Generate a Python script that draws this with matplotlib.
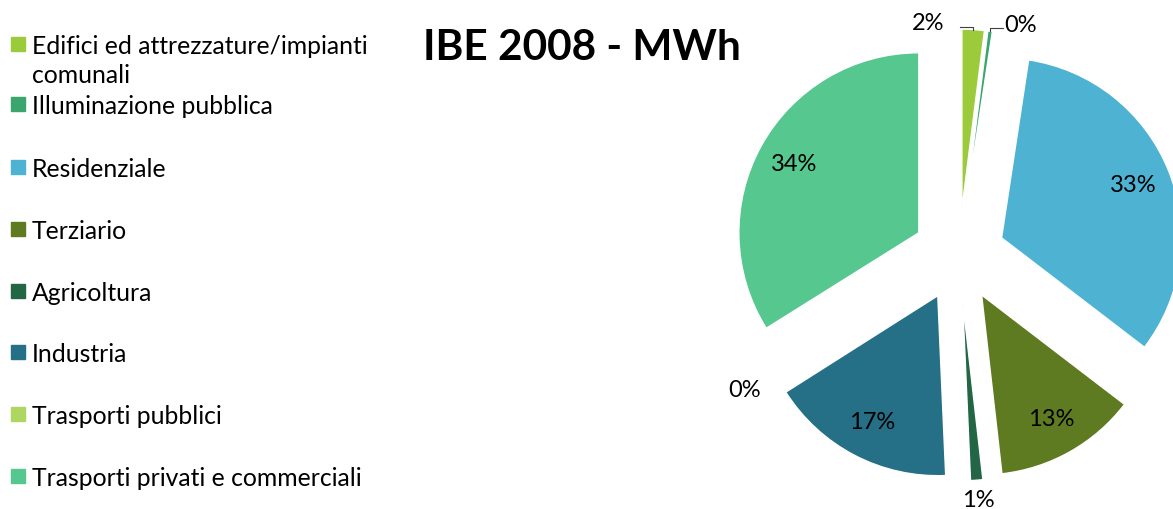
import numpy as np
import matplotlib.pyplot as plt
from matplotlib.patches import Rectangle

plt.rcParams['font.family'] = ['Lato', 'DejaVu Sans']

categories = ['Edifici ed attrezzature/impianti\ncomunali', 'Illuminazione pubblica',
              'Residenziale', 'Terziario', 'Agricoltura', 'Industria',
              'Trasporti pubblici', 'Trasporti privati e commerciali']
values = [2.0, 0.4, 33.0, 12.8, 1.1, 16.7, 0.1, 33.9]
colors = ['#9BCB3B', '#3AA56C', '#4EB3D3', '#5F7B22', '#226645', '#256F87', '#AED661', '#55C78F']

W, H = 1173, 510
R = 180
fig = plt.figure(figsize=(W / 100, H / 100), dpi=100)
ax = fig.add_axes([0, 0, 1, 1])

wedges, texts, autotexts = ax.pie(values, colors=colors, center=(959, 254), radius=R,
                                  explode=[0.255 * R] * len(values), startangle=90, counterclock=False,
                                  autopct='%1.0f%%', pctdistance=0.79,
                                  wedgeprops=dict(edgecolor='white', linewidth=1),
                                  textprops=dict(fontsize=17, color='black'))
ax.set_xlim(0, W)
ax.set_ylim(0, H)
ax.set_aspect('auto')
ax.axis('off')

# labels of small slices sit outside the pie
outside = {0: (1.04, -46), 1: (1.04, 29), 4: (1.11, 0), 6: (1.15, 0)}
for i, (dist, dx) in outside.items():
    w = wedges[i]
    th = np.deg2rad((w.theta1 + w.theta2) / 2)
    cx, cy = w.center
    x = cx + dist * w.r * np.cos(th) + dx
    y = cy + dist * w.r * np.sin(th)
    autotexts[i].set_position((x, y))

# leader lines for the two top labels
for i, side in [(0, -1), (1, 1)]:
    w = wedges[i]
    th = np.deg2rad((w.theta1 + w.theta2) / 2)
    cx, cy = w.center
    tx = cx + w.r * np.cos(th)
    ty = cy + w.r * np.sin(th)
    ly = ty + 3
    ax.plot([tx, tx, tx + side * 13], [ty, ly, ly], color='#404040', lw=0.8)

fig.text(582 / W, 1 - 48 / H, 'IBE 2008 - MWh', fontsize=30.5, fontweight='bold',
         ha='center', va='center')

# legend
leg_y = [45, 105, 168, 230, 292, 353, 415, 477]
for lab, col, y in zip(categories, colors, leg_y):
    ax.add_patch(Rectangle((11, H - y - 7), 14, 14, color=col, clip_on=False))
    ax.text(32, H - y + 10, lab, fontsize=17.8, ha='left', va='top', linespacing=1.32)

fig.savefig('out.png', dpi=100)
